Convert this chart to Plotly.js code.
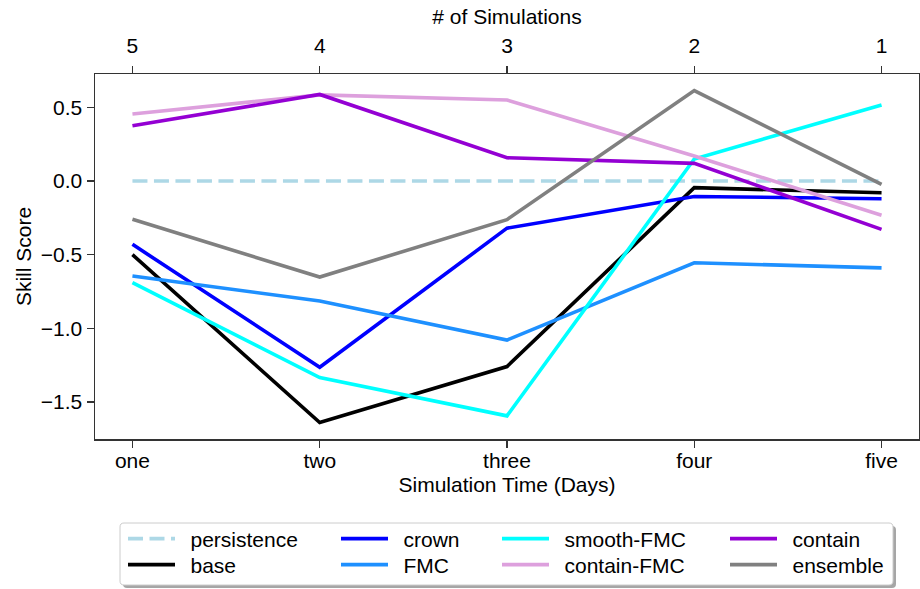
<!DOCTYPE html>
<html>
<head>
<meta charset="utf-8">
<script src="https://cdn.plot.ly/plotly-3.0.1.min.js"></script>
<style>
  html, body { margin: 0; padding: 0; background: #fff; }
  #chart { width: 920px; height: 589px; }
</style>
</head>
<body>
<div id="chart"></div>
<script>
// Simulation time (bottom axis) and number of simulations (top axis)
const days = ['one', 'two', 'three', 'four', 'five'];
const simCounts = ['5', '4', '3', '2', '1'];

// Skill score of each configuration per simulation day
const persistence = [0, 0, 0, 0, 0];
const base        = [-0.50, -1.64, -1.26, -0.045, -0.08];
const crown       = [-0.43, -1.265, -0.32, -0.105, -0.12];
const fmc         = [-0.645, -0.815, -1.08, -0.555, -0.59];
const smoothFmc   = [-0.69, -1.335, -1.595, 0.15, 0.517];
const containFmc  = [0.455, 0.585, 0.55, 0.17, -0.232];
const contain     = [0.375, 0.588, 0.158, 0.12, -0.328];
const ensemble    = [-0.26, -0.652, -0.262, 0.614, -0.023];

const seriesNames  = ['persistence', 'base', 'crown', 'FMC', 'smooth-FMC', 'contain-FMC', 'contain', 'ensemble'];
const seriesValues = [persistence, base, crown, fmc, smoothFmc, containFmc, contain, ensemble];
const seriesColors = ['#add8e6', '#000000', '#0000ff', '#1e90ff', '#00ffff', '#dda0dd', '#9400d3', '#808080'];

const FONT = 'Liberation Sans, Arial, Helvetica, sans-serif';
const W = 920, H = 589;
const M = { l: 95, r: 1, t: 74, b: 150 };
const plotW = W - M.l - M.r, plotH = H - M.t - M.b;
const px2x = px => (px - M.l) / plotW;
const px2y = py => (M.t + plotH - py) / plotH;

const xIdx = days.map((_, i) => i);

// legend entries laid out in 4 columns x 2 rows (column-major)
const colLeft = [123, 336, 497, 725];
const rowMid = [539, 565];

const traces = seriesNames.map((name, i) => ({
  type: 'scatter',
  mode: 'lines',
  name: '\u2002' + name,
  x: xIdx,
  y: seriesValues[i],
  line: { color: seriesColors[i], width: 3.6, dash: i === 0 ? '15px,6.5px' : 'solid' },
  legend: i === 0 ? 'legend' : 'legend' + (i + 1),
  hoverinfo: 'skip'
}));

// invisible carrier for the top (# of simulations) axis
traces.push({
  type: 'scatter', mode: 'lines', x: xIdx, y: persistence,
  xaxis: 'x2', line: { width: 0 }, showlegend: false, hoverinfo: 'skip'
});

const axisLine = '#333333';
const layout = {
  width: W, height: H,
  margin: M,
  paper_bgcolor: '#ffffff',
  plot_bgcolor: '#ffffff',
  font: { family: FONT, size: 21, color: '#000' },
  showlegend: true,
  xaxis: {
    range: [-0.2, 4.2],
    tickvals: xIdx, ticktext: days,
    ticks: 'outside', ticklen: 7, tickwidth: 1.3, tickcolor: axisLine,
    ticklabelstandoff: -5,
    showline: true, linecolor: axisLine, linewidth: 1.5, mirror: true,
    showgrid: false, zeroline: false,
    tickfont: { size: 21 },
    title: { text: 'Simulation Time (Days)', font: { size: 21 }, standoff: 6 }
  },
  xaxis2: {
    overlaying: 'x', side: 'top', anchor: 'y',
    range: [-0.2, 4.2],
    tickvals: xIdx, ticktext: simCounts,
    ticks: 'outside', ticklen: 7, tickwidth: 1.3, tickcolor: axisLine,
    ticklabelstandoff: 4,
    showline: true, linecolor: axisLine, linewidth: 1.5,
    showgrid: false, zeroline: false,
    tickfont: { size: 21 },
    title: { text: '# of Simulations', font: { size: 21 }, standoff: 3 }
  },
  yaxis: {
    range: [-1.752, 0.727],
    tickvals: [-1.5, -1.0, -0.5, 0.0, 0.5],
    tickformat: '.1f',
    ticks: 'outside', ticklen: 7, tickwidth: 1.3, tickcolor: axisLine,
    showline: true, linecolor: axisLine, linewidth: 1.5, mirror: true,
    showgrid: false, zeroline: false,
    tickfont: { size: 21 },
    title: { text: 'Skill Score', font: { size: 21 }, standoff: 3 }
  },
  shapes: [],
};

// one single-entry legend per slot so the columns can have their own widths
seriesNames.forEach((_, i) => {
  const col = Math.floor(i / 2), row = i % 2;
  const key = i === 0 ? 'legend' : 'legend' + (i + 1);
  layout[key] = {
    x: px2x(colLeft[col]), xref: 'paper', xanchor: 'left',
    y: px2y(rowMid[row]), yref: 'paper', yanchor: 'middle',
    orientation: 'v',
    bgcolor: 'rgba(0,0,0,0)', borderwidth: 0,
    itemwidth: 47,
    font: { family: FONT, size: 21, color: '#000' }
  };
});

// rounded legend frame with a soft drop shadow
function roundRect(x0, y0, x1, y1, r) {
  const pts = [
    ['M', x0 + r, y0], ['L', x1 - r, y0], ['Q', x1, y0, x1, y0 + r],
    ['L', x1, y1 - r], ['Q', x1, y1, x1 - r, y1], ['L', x0 + r, y1],
    ['Q', x0, y1, x0, y1 - r], ['L', x0, y0 + r], ['Q', x0, y0, x0 + r, y0]
  ];
  return pts.map(p => {
    const cmd = p[0];
    const coords = [];
    for (let k = 1; k < p.length; k += 2) coords.push(px2x(p[k]).toFixed(5) + ',' + px2y(p[k + 1]).toFixed(5));
    return cmd + coords.join(' ');
  }).join(' ') + ' Z';
}
layout.shapes.push({
  type: 'path', xref: 'paper', yref: 'paper', layer: 'above',
  path: roundRect(123, 526, 896, 588, 4),
  fillcolor: 'rgba(0,0,0,0.35)', line: { width: 0 }
});
layout.shapes.push({
  type: 'path', xref: 'paper', yref: 'paper', layer: 'above',
  path: roundRect(120, 523, 893, 585, 4),
  fillcolor: '#ffffff', line: { color: '#cccccc', width: 1 }
});

Plotly.newPlot('chart', traces, layout, { displayModeBar: false, staticPlot: true });
</script>
</body>
</html>
